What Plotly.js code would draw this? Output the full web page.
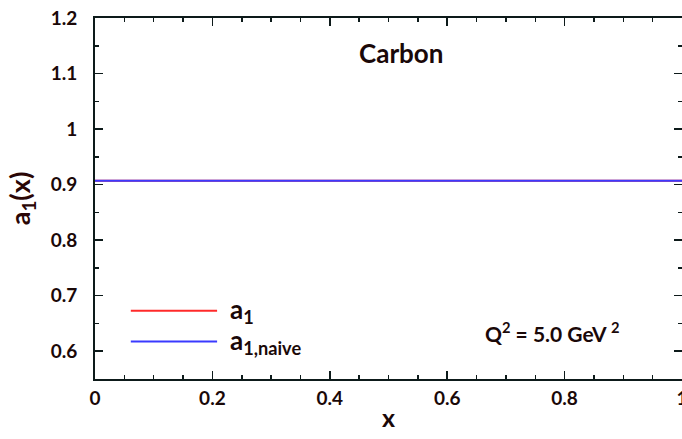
<!DOCTYPE html>
<html>
<head>
<meta charset="utf-8">
<script src="https://cdn.plot.ly/plotly-3.0.1.min.js"></script>
<style>html,body{margin:0;padding:0;background:#fff;}#chart{width:682px;height:439px;}</style>
</head>
<body>
<div id="chart"></div>
<script>
const xValues = [0, 0.2, 0.4, 0.6, 0.8, 1.0];
const a1Values = [0.907, 0.907, 0.907, 0.907, 0.907, 0.907];
const a1NaiveValues = [0.907, 0.907, 0.907, 0.907, 0.907, 0.907];
const seriesNames = ['a<sub>1</sub>', 'a<sub>1,naive</sub>'];
const seriesColors = ['#ff2a2a', '#3a3aff'];
const xTickVals = [0, 0.2, 0.4, 0.6, 0.8, 1];
const xTickText = ['0', '0.2', '0.4', '0.6', '0.8', '1'];
const yTickVals = [0.6, 0.7, 0.8, 0.9, 1, 1.1, 1.2];
const yTickText = ['0.6', '0.7', '0.8', '0.9', '1', '1.1', '1.2'];

const FONT = 'Lato, "Open Sans", sans-serif';
const TXT = '#1a0808';

const traces = [
  {x: xValues, y: a1Values, name: seriesNames[0], mode: 'lines', line: {color: seriesColors[0], width: 2}, showlegend: false},
  {x: xValues, y: a1NaiveValues, name: seriesNames[1], mode: 'lines', line: {color: seriesColors[1], width: 2}, showlegend: false}
];

const axisCommon = {
  showgrid: false, zeroline: false, showline: true, linecolor: '#0d1a1a', linewidth: 2,
  mirror: 'ticks', ticks: 'inside', ticklen: 8, tickwidth: 1.5, tickcolor: '#0d1a1a',
  tickfont: {family: FONT, size: 19, color: TXT, weight: 'bold'},
  ticklabeloverflow: 'allow',
  minor: {ticks: 'inside', ticklen: 4, tickwidth: 1.5, tickcolor: '#0d1a1a', dtick: 0.05, showgrid: false}
};

const layout = {
  width: 682, height: 439,
  margin: {l: 95, r: 0, t: 18, b: 60},
  paper_bgcolor: '#fff', plot_bgcolor: '#fff',
  xaxis: Object.assign({}, axisCommon, {
    range: [0, 1], tickvals: xTickVals, ticktext: xTickText, ticklabelstandoff: 1,
    title: {text: 'x', font: {family: FONT, size: 25, color: TXT, weight: 'bold'}, standoff: 2}
  }),
  yaxis: Object.assign({}, axisCommon, {
    range: [0.55, 1.2], tickvals: yTickVals, ticktext: yTickText, ticklabelstandoff: 12,
    title: {text: 'a<sub>1</sub>(x)', font: {family: FONT, size: 27, color: '#2a0606', weight: 'bold'}, standoff: 12}
  }),
  shapes: [
    {type: 'line', xref: 'paper', yref: 'paper', x0: 0.061, x1: 0.208, y0: 0.189, y1: 0.189, line: {color: seriesColors[0], width: 2}},
    {type: 'line', xref: 'paper', yref: 'paper', x0: 0.061, x1: 0.208, y0: 0.104, y1: 0.104, line: {color: seriesColors[1], width: 2}}
  ],
  annotations: [
    {text: 'Carbon', xref: 'paper', yref: 'paper', x: 0.521, y: 0.904, showarrow: false, xanchor: 'center', yanchor: 'middle',
     font: {family: FONT, size: 26, color: TXT, weight: 'bold'}},
    {text: 'a<sub>1</sub>', xref: 'paper', yref: 'paper', x: 0.227, y: 0.19, showarrow: false, xanchor: 'left', yanchor: 'middle',
     font: {family: FONT, size: 26, color: TXT, weight: 'bold'}},
    {text: 'a<sub>1,naive</sub>', xref: 'paper', yref: 'paper', x: 0.227, y: 0.105, showarrow: false, xanchor: 'left', yanchor: 'middle',
     font: {family: FONT, size: 26, color: TXT, weight: 'bold'}},
    {text: 'Q<sup>2</sup> = 5.0 GeV <sup>2</sup>', xref: 'paper', yref: 'paper', x: 0.661, y: 0.13, showarrow: false, xanchor: 'left', yanchor: 'middle',
     font: {family: FONT, size: 21, color: TXT, weight: 'bold'}}
  ]
};

Plotly.newPlot('chart', traces, layout, {staticPlot: true, displayModeBar: false});
</script>
</body>
</html>
